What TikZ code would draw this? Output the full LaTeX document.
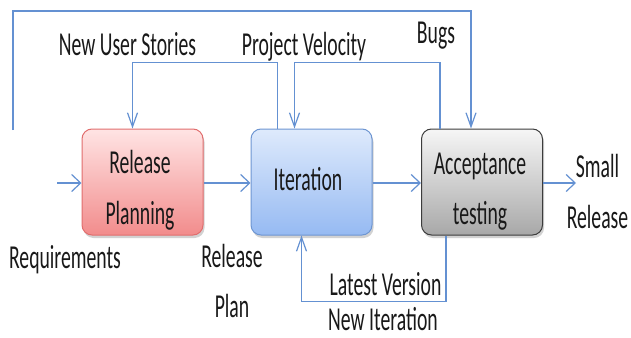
\documentclass[tikz,border=0pt]{standalone}
\usepackage{fontspec}
\setmainfont{Carlito}
\usepackage{graphicx}
\usetikzlibrary{arrows.meta,calc,shadows}
\definecolor{lineblue}{RGB}{100,145,210}
\definecolor{txtc}{RGB}{25,25,25}
\newcommand{\tx}[1]{\scalebox{1}[1.7]{\fontsize{19.7}{29.5}\selectfont\begin{tabular}{@{}c@{}}#1\end{tabular}}}
\tikzset{
  conn/.style={draw=lineblue, line width=1.3pt},
  harr/.style={conn, -{Straight Barb[length=9pt,width=17pt,line width=1.2pt]}},
  varr/.style={conn, -{Straight Barb[length=14pt,width=10pt,line width=1.2pt]}},
  boxbase/.style={rectangle, rounded corners=10pt, minimum width=121pt, minimum height=106pt, inner sep=0pt, line width=1pt,
    drop shadow={shadow xshift=1.5pt, shadow yshift=-3pt, opacity=0.35}},
  redbox/.style={boxbase, draw={rgb,255:red,225;green,110;blue,110}, top color={rgb,255:red,255;green,228;blue,228}, bottom color={rgb,255:red,242;green,140;blue,140}},
  bluebox/.style={boxbase, draw={rgb,255:red,110;green,150;blue,210}, top color={rgb,255:red,222;green,234;blue,252}, bottom color={rgb,255:red,150;green,186;blue,242}},
  graybox/.style={boxbase, draw={rgb,255:red,60;green,60;blue,60}, top color={rgb,255:red,246;green,246;blue,246}, bottom color={rgb,255:red,168;green,168;blue,168}},
  lbl/.style={inner sep=0pt, text=txtc}
}
\begin{document}
\begin{tikzpicture}[x=1pt,y=-1pt]
\useasboundingbox[fill=white] (0,0) rectangle (631,337);
% boxes
\node[redbox] (rp) at (142.5,182) {};
\node[bluebox] (it) at (311.5,182) {};
\node[graybox] (acc) at (482,182) {};
% box texts
\node[lbl] (rpt) at (140,189) {\tx{Release\\Planning}};
\node[lbl] (itt) at (308,180) {\tx{Iteration}};
\node[lbl] (acct) at (480,189.5) {\tx{Acceptance\\testing}};
% labels
\node[lbl] (nus) at (127.5,45) {\tx{New User Stories}};
\node[lbl] (pv) at (304,45) {\tx{Project Velocity}};
\node[lbl] (bugs) at (436,33) {\tx{Bugs}};
\node[lbl] (req) at (65,258) {\tx{Requirements}};
\node[lbl] (rpl) at (232,282.5) {\tx{Release\\Plan}};
\node[lbl] (sr) at (597.5,193) {\tx{Small\\Release}};
\node[lbl] (lv) at (385.5,285) {\tx{Latest Version}};
\node[lbl] (ni) at (383,320) {\tx{New Iteration}};
% coordinates for free ends
\coordinate (instart) at (57,183);
\coordinate (outend) at (576,183);
\coordinate (loopstart) at (13,130);
% horizontal flow
\draw[harr] (instart) -- (rp.west |- instart);
\draw[harr] (rp.east |- instart) -- (it.west |- instart);
\draw[harr] (it.east |- instart) -- (acc.west |- instart);
\draw[harr] (acc.east |- instart) -- (outend);
% top loop (Bugs)
\draw[varr] (loopstart) -- (13,11) -| ($(acc.north west)+(50,0)$);
% iteration -> release planning (New User Stories)
\draw[varr] ($(it.north west)+(27,0)$) -- ++(0,-66) -| ($(rp.north west)+(51,0)$);
% acceptance -> iteration (Project Velocity)
\draw[varr] ($(acc.north west)+(19,0)$) -- ++(0,-66) -| ($(it.north west)+(44,0)$);
% bottom loop (Latest Version / New Iteration)
\draw[varr] ($(acc.south west)+(25,0)$) -- ++(0,66) -| ($(it.south west)+(51,0)$);
\end{tikzpicture}
\end{document}
